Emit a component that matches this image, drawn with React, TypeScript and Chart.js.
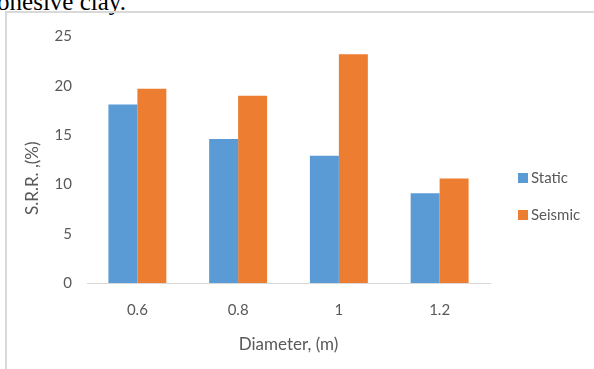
import { useEffect, useRef } from "react";
import { Chart, registerables } from "chart.js";

Chart.register(...registerables);

// Pile diameter categories and settlement reduction ratios (%)
const diameters = ["0.6", "0.8", "1", "1.2"];
const staticSRR = [18.1, 14.6, 12.9, 9.1];
const seismicSRR = [19.7, 19.0, 23.2, 10.6];
const seriesNames = ["Static", "Seismic"];
const seriesColors = ["#5B9BD5", "#ED7D31"];
const xTitle = "Diameter, (m)";
const yTitle = "S.R.R. ,(%)";
const yMin = 0;
const yMax = 25;
const yStep = 5;

const FONT = 'Lato, "Liberation Sans", sans-serif';
const TEXT = "#595959";

// Legend to the right of the plot, stacked vertically
const sideLegend = {
  id: "sideLegend",
  afterDraw(chart: Chart) {
    const { ctx, chartArea } = chart;
    const x = chartArea.right + 28;
    const midY = 196.5;
    const gap = 37;
    ctx.save();
    ctx.font = `15px ${FONT}`;
    ctx.textBaseline = "middle";
    ctx.textAlign = "left";
    const n = chart.data.datasets.length;
    chart.data.datasets.forEach((ds, i) => {
      const cy = midY + (i - (n - 1) / 2) * gap;
      ctx.fillStyle = ds.backgroundColor as string;
      ctx.fillRect(x, cy - 5, 10, 10);
      ctx.fillStyle = TEXT;
      ctx.fillText(String(ds.label), x + 13, cy + 0.5);
    });
    ctx.restore();
  },
};

// Vertical value-axis caption, sitting a little below the plot's middle
const yAxisCaption = {
  id: "yAxisCaption",
  afterDraw(chart: Chart) {
    const { ctx, chartArea } = chart;
    ctx.save();
    ctx.translate(32.5, chartArea.top + (chartArea.bottom - chartArea.top) * 0.575);
    ctx.rotate(-Math.PI / 2);
    ctx.font = `17px ${FONT}`;
    ctx.fillStyle = TEXT;
    ctx.textAlign = "center";
    ctx.textBaseline = "middle";
    ctx.fillText(yTitle, 0, 0);
    ctx.restore();
  },
};

function BarChart() {
  const ref = useRef<HTMLCanvasElement>(null);

  useEffect(() => {
    const canvas = ref.current;
    if (!canvas) return;
    const chart = new Chart(canvas, {
      type: "bar",
      data: {
        labels: diameters,
        datasets: [
          { label: seriesNames[0], data: staticSRR, backgroundColor: seriesColors[0] },
          { label: seriesNames[1], data: seismicSRR, backgroundColor: seriesColors[1] },
        ],
      },
      options: {
        animation: false,
        responsive: false,
        devicePixelRatio: 1,
        layout: { padding: { left: 18, top: 36.5, right: 104, bottom: 0 } },
        datasets: {
          bar: { categoryPercentage: 0.575, barPercentage: 1, borderWidth: 0 },
        },
        plugins: {
          legend: { display: false },
          tooltip: { enabled: false },
        },
        scales: {
          x: {
            grid: { display: false, drawTicks: false },
            border: { display: true, color: "#D9D9D9", width: 1 },
            ticks: { color: TEXT, font: { family: FONT, size: 15 }, padding: 18 },
            title: {
              display: true,
              text: xTitle,
              color: TEXT,
              font: { family: FONT, size: 17 },
              padding: { top: 0, bottom: 14 },
            },
            afterFit(scale) {
              scale.height = 86;
            },
          },
          y: {
            min: yMin,
            max: yMax,
            grid: { display: false, drawTicks: false },
            border: { display: false },
            ticks: {
              stepSize: yStep,
              color: TEXT,
              font: { family: FONT, size: 15 },
              padding: 15,
            },
            afterFit(scale) {
              scale.width = 69;
            },
          },
        },
      },
      plugins: [sideLegend, yAxisCaption],
    });
    return () => chart.destroy();
  }, []);

  return (
    <canvas
      ref={ref}
      width={594}
      height={369}
      style={{ position: "absolute", left: 0, top: 0, width: 594, height: 369 }}
    />
  );
}

export default function App() {
  return (
    <div
      style={{
        position: "fixed",
        left: 0,
        top: 0,
        width: 594,
        height: 369,
        background: "#fff",
        overflow: "hidden",
      }}
    >
      <div
        style={{
          position: "absolute",
          left: -14,
          top: -11,
          fontFamily: '"Liberation Serif", "Times New Roman", serif',
          fontSize: 25,
          lineHeight: "25px",
          color: "#000",
          whiteSpace: "nowrap",
        }}
      >
        cohesive clay.
      </div>
      <div
        style={{
          position: "absolute",
          left: 5,
          top: 11,
          width: 640,
          height: 420,
          borderTop: "2px solid #D9D9D9",
          borderLeft: "2px solid #D9D9D9",
          boxSizing: "border-box",
        }}
      />
      <BarChart />
    </div>
  );
}
